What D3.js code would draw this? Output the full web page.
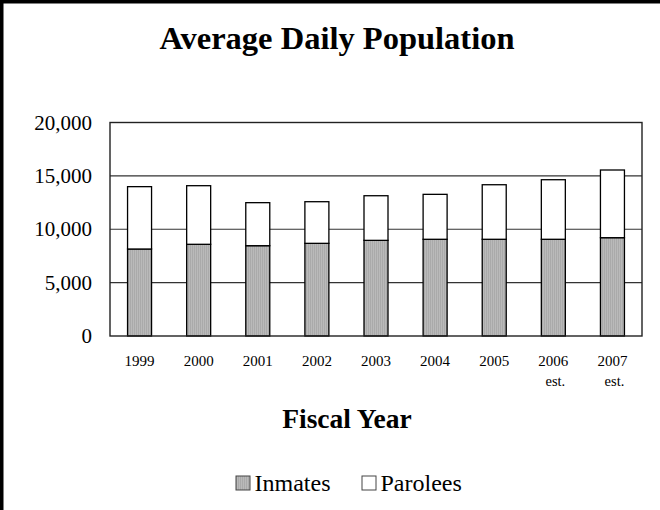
<!DOCTYPE html>
<html>
<head>
<meta charset="utf-8">
<script src="https://cdn.jsdelivr.net/npm/d3@7"></script>
<style>
  html, body { margin: 0; padding: 0; background: #fff; }
  svg { display: block; }
  text { font-family: "Liberation Serif", "Times New Roman", serif; fill: #000; }
</style>
</head>
<body>
<svg id="chart" width="660" height="510"></svg>
<script>
// Fiscal years shown on the x axis (second line marks estimates)
const years = ["1999", "2000", "2001", "2002", "2003", "2004", "2005", "2006", "2007"];
const yearNotes = ["", "", "", "", "", "", "", "est.", "est."];
// Average daily population by group
const inmates  = [8150, 8590, 8460, 8680, 8960, 9060, 9060, 9060, 9210];
const parolees = [5840, 5490, 4030, 3900, 4180, 4210, 5110, 5580, 6340];
const seriesNames = ["Inmates", "Parolees"];
const yTicks = [0, 5000, 10000, 15000, 20000];

const svg = d3.select("#chart");
const W = 660, H = 510;
const plot = { left: 110, top: 122.5, right: 642, bottom: 336 };

// Stippled grey fill for the inmate bars
const defs = svg.append("defs");
const pat = defs.append("pattern")
  .attr("id", "inmateFill")
  .attr("patternUnits", "userSpaceOnUse")
  .attr("width", 2).attr("height", 2);
pat.append("rect").attr("width", 2).attr("height", 2).attr("fill", "#bababa");
pat.append("rect").attr("width", 1).attr("height", 2).attr("fill", "#aaaaaa");

// Outer frame: left and top edges
svg.append("line").attr("x1", 1.75).attr("x2", 1.75).attr("y1", 0).attr("y2", H)
  .attr("stroke", "#000").attr("stroke-width", 3.5);
svg.append("line").attr("x1", 0).attr("x2", W).attr("y1", 1.75).attr("y2", 1.75)
  .attr("stroke", "#000").attr("stroke-width", 3.5);

// Title
svg.append("text")
  .attr("x", 337).attr("y", 49)
  .attr("text-anchor", "middle")
  .attr("font-size", 32.5).attr("font-weight", "bold")
  .text("Average Daily Population");

const x = d3.scaleBand()
  .domain(years)
  .range([plot.left, plot.right])
  .paddingInner(0.594)
  .paddingOuter(0.297);

const y = d3.scaleLinear()
  .domain([0, 20000])
  .range([plot.bottom, plot.top]);

// Horizontal gridlines
svg.append("g")
  .selectAll("line")
  .data(yTicks.filter(t => t > 0 && t < 20000))
  .join("line")
  .attr("x1", plot.left).attr("x2", plot.right)
  .attr("y1", d => y(d)).attr("y2", d => y(d))
  .attr("stroke", "#333").attr("stroke-width", 1.2);

// Y axis labels
const yAxis = d3.axisLeft(y)
  .tickValues(yTicks)
  .tickSize(0)
  .tickPadding(18)
  .tickFormat(d3.format(","));
const gy = svg.append("g")
  .attr("transform", `translate(${plot.left},0)`)
  .call(yAxis);
gy.select(".domain").remove();
gy.selectAll("text")
  .attr("font-family", "Liberation Serif, Times New Roman, serif")
  .attr("font-size", 21)
  .attr("fill", "#000");

// Stacked bars
const table = years.map((yr, i) => ({ year: yr, Inmates: inmates[i], Parolees: parolees[i] }));
const stacked = d3.stack().keys(seriesNames)(table);
const fills = { Inmates: "url(#inmateFill)", Parolees: "#fff" };

svg.append("g")
  .selectAll("g")
  .data(stacked)
  .join("g")
  .attr("fill", d => fills[d.key])
  .selectAll("rect")
  .data(d => d)
  .join("rect")
  .attr("x", d => x(d.data.year))
  .attr("width", x.bandwidth())
  .attr("y", d => y(d[1]))
  .attr("height", d => y(d[0]) - y(d[1]))
  .attr("stroke", "#000")
  .attr("stroke-width", 1.3);

// Plot frame
svg.append("rect")
  .attr("x", plot.left).attr("y", plot.top)
  .attr("width", plot.right - plot.left)
  .attr("height", plot.bottom - plot.top)
  .attr("fill", "none")
  .attr("stroke", "#222").attr("stroke-width", 1.4);

// X axis labels
const xAxis = d3.axisBottom(x).tickSize(0).tickPadding(0);
const gx = svg.append("g")
  .attr("transform", `translate(0,${plot.bottom})`)
  .call(xAxis);
gx.select(".domain").remove();
gx.selectAll(".tick text").remove();
gx.selectAll(".tick").each(function(d, i) {
  const t = d3.select(this);
  t.append("text")
    .attr("y", 30).attr("text-anchor", "middle")
    .attr("font-size", 15).attr("fill", "#000")
    .text(d);
  if (yearNotes[i]) {
    t.append("text")
      .attr("x", 2).attr("y", 50).attr("text-anchor", "middle")
      .attr("font-size", 14.5).attr("fill", "#000")
      .text(yearNotes[i]);
  }
});

// X axis title
svg.append("text")
  .attr("x", 347).attr("y", 428)
  .attr("text-anchor", "middle")
  .attr("font-size", 27.5).attr("font-weight", "bold")
  .text("Fiscal Year");

// Legend
const legendItems = [
  { name: "Inmates", fill: "url(#inmateFill)", x: 236 },
  { name: "Parolees", fill: "#fff", x: 362 }
];
const lg = svg.append("g")
  .selectAll("g")
  .data(legendItems)
  .join("g")
  .attr("transform", d => `translate(${d.x},476)`);
lg.append("rect")
  .attr("width", 14).attr("height", 14)
  .attr("fill", d => d.fill)
  .attr("stroke", "#444").attr("stroke-width", 1);
lg.append("text")
  .attr("x", 18.5).attr("y", 15)
  .attr("font-size", 24)
  .text(d => d.name);
</script>
</body>
</html>
